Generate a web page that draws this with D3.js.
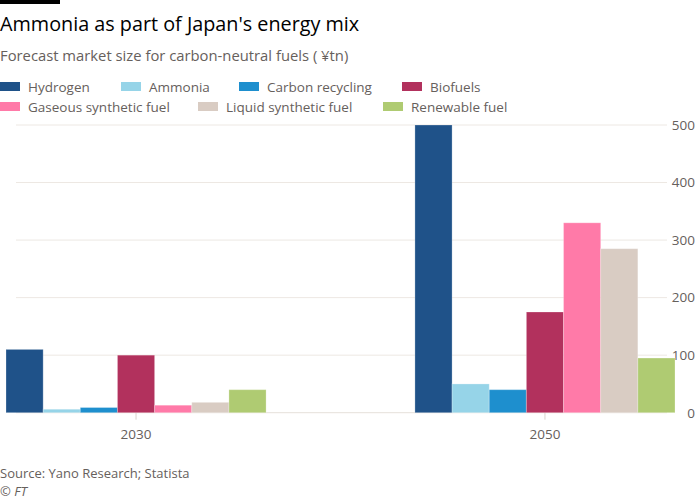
<!DOCTYPE html>
<html><head><meta charset="utf-8">
<script src="https://cdn.jsdelivr.net/npm/d3@7"></script>
<style>body{margin:0;background:#fff}svg{display:block}text{font-family:"Open Sans","Liberation Sans",sans-serif}</style>
</head><body><svg id="c" width="700" height="500"></svg>
<script>
const years = ["2030", "2050"];
const series = ["Hydrogen", "Ammonia", "Carbon recycling", "Biofuels", "Gaseous synthetic fuel", "Liquid synthetic fuel", "Renewable fuel"];
const values2030 = [110, 6, 9, 100, 13, 18, 40];
const values2050 = [500, 50, 40, 175, 330, 285, 95];
const colors = ["#1f5289", "#96d4e8", "#1e8fce", "#b2315d", "#ff7aa8", "#d9ccc3", "#afcb72"];
const yTicks = [0, 100, 200, 300, 400, 500];

const svg = d3.select("#c");
const grey = "#66605c";

svg.append("rect").attr("x",0).attr("y",0).attr("width",60).attr("height",4).attr("fill","#000");
svg.append("text").attr("x",0).attr("y",31).attr("font-size",19.8).attr("fill",grey === "" ? "#000" : "#000").text("Ammonia as part of Japan's energy mix");
svg.append("text").attr("x",0).attr("y",61).attr("font-size",14.8).attr("fill",grey).text("Forecast market size for carbon-neutral fuels ( ¥tn)");

// legend
const legendPos = [[0,87],[121,87],[239,87],[402,87],[0,107],[198,107],[383,107]];
series.forEach((s,i)=>{
  const g = svg.append("g").attr("transform",`translate(${legendPos[i][0]},${legendPos[i][1]})`);
  g.append("rect").attr("x",0).attr("y",-5).attr("width",20).attr("height",9).attr("fill",colors[i]);
  g.append("text").attr("x",28).attr("y",0).attr("dy","0.35em").attr("font-size",13.5).attr("fill",grey).text(s);
});

const y = d3.scaleLinear().domain([0,500]).range([412.7,125]);
const x0 = d3.scaleBand().domain(years).range([6,675]).paddingInner(0.364).paddingOuter(0);
const x1 = d3.scaleBand().domain(series).range([0,x0.bandwidth()]);

// gridlines
const grid = svg.append("g");
yTicks.forEach(t=>{
  grid.append("line").attr("x1",16).attr("x2",667).attr("y1",y(t)).attr("y2",y(t))
    .attr("stroke", t===0 ? "#e6e0da" : "#ede8e3").attr("stroke-width",1);
});

// y axis labels on right
const yAxis = d3.axisRight(y).tickValues(yTicks).tickSize(0).tickPadding(0);
const ya = svg.append("g").attr("transform","translate(695,0)").call(yAxis);
ya.select(".domain").remove();
ya.selectAll("text").attr("text-anchor","end").attr("font-size",13.5).attr("fill",grey).attr("font-family",'"Open Sans","Liberation Sans",sans-serif');

// x axis
const xAxis = d3.axisBottom(x0).tickSize(7).tickPadding(10);
const xa = svg.append("g").attr("transform",`translate(0,${y(0)})`).call(xAxis);
xa.select(".domain").remove();
xa.selectAll("line").attr("stroke","#d9d3ce");
xa.selectAll("text").attr("font-size",13.5).attr("fill",grey).attr("font-family",'"Open Sans","Liberation Sans",sans-serif');

// bars
const data = years.map((yr,j)=>({year:yr, vals: (j===0?values2030:values2050)}));
const groups = svg.append("g").selectAll("g").data(data).join("g")
  .attr("transform",d=>`translate(${x0(d.year)},0)`);
groups.selectAll("rect").data(d=>d.vals.map((v,i)=>({s:series[i],v,i}))).join("rect")
  .attr("x",d=>x1(d.s)).attr("width",x1.bandwidth())
  .attr("y",d=>y(d.v)).attr("height",d=>y(0)-y(d.v))
  .attr("fill",d=>colors[d.i])
  .attr("stroke","rgba(255,255,255,0.25)").attr("stroke-width",1);

svg.append("text").attr("x",0).attr("y",478).attr("font-size",13).attr("fill",grey).text("Source: Yano Research; Statista");
svg.append("text").attr("x",0).attr("y",496).attr("font-size",13).attr("font-style","italic").attr("fill",grey).text("© FT");
</script></body></html>
